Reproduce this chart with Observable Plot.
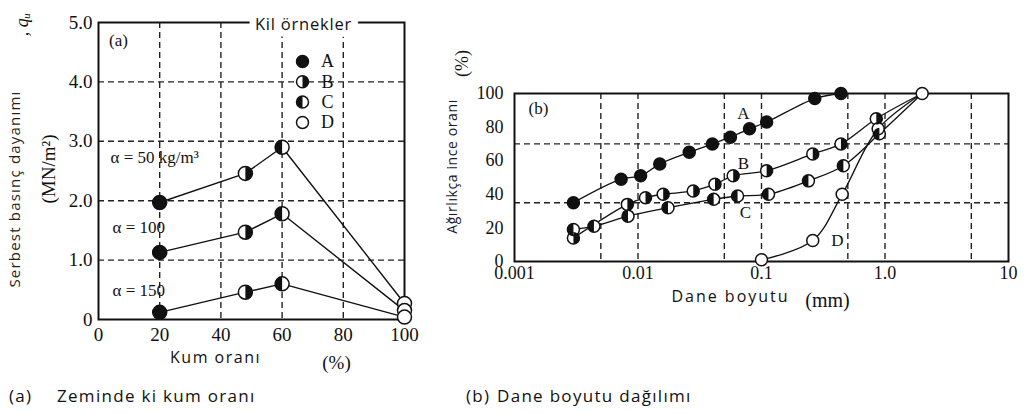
<!DOCTYPE html>
<html><head><meta charset="utf-8">
<script src="https://cdn.jsdelivr.net/npm/d3@7"></script>
<script src="https://cdn.jsdelivr.net/npm/@observablehq/plot@0.6"></script>
<style>
body{margin:0;background:#fff;width:1029px;height:414px;overflow:hidden;position:relative;font-family:"Open Sans",sans-serif;}
#pa{position:absolute;left:0;top:0}
#pb{position:absolute;left:420px;top:0}
.cap{position:absolute;top:384px;font-size:17px;color:#111;letter-spacing:1.3px;white-space:nowrap}
svg{overflow:visible}
</style></head><body>
<div id="pa"></div><div id="pb"></div>
<div class="cap" style="left:9px">(a)</div>
<div class="cap" style="left:57px">Zeminde ki kum oranı</div>
<div class="cap" style="left:466px">(b)</div>
<div class="cap" style="left:497px">Dane boyutu dağılımı</div>
<script>
// ---------- Panel (a) data ----------
const sandPct = [20, 48, 60, 100];
const sampleOfSand = ["A", "B", "C", "D"];
const alphaNames = ["α = 50 kg/m³", "α = 100", "α = 150"];
const qu50 = [1.97, 2.46, 2.90, 0.27];
const qu100 = [1.13, 1.47, 1.78, 0.15];
const qu150 = [0.12, 0.46, 0.60, 0.04];
const xTicksA = [0, 20, 40, 60, 80, 100];
const yTicksA = [0, 1, 2, 3, 4, 5];
const yTickLabelsA = ["0", "1.0", "2.0", "3.0", "4.0", "5.0"];
const gridXA = [20, 40, 60, 80];
const gridYA = [1, 2, 3, 4];
const legendKeys = ["A", "B", "C", "D"];

// ---------- Panel (b) data ----------
const sizeA = [0.003, 0.0073, 0.0105, 0.015, 0.026, 0.04, 0.056, 0.08, 0.11, 0.27, 0.44];
const pctA  = [35, 49, 51, 58, 65, 70, 74, 79, 83, 97, 100];
const sizeB = [0.003, 0.0082, 0.0115, 0.016, 0.028, 0.042, 0.059, 0.11, 0.26, 0.44, 0.85];
const pctB  = [14, 34, 38, 40, 42, 46, 51, 54, 64, 70, 85];
const sizeC = [0.003, 0.0044, 0.0083, 0.0175, 0.041, 0.064, 0.114, 0.24, 0.46, 0.9];
const pctC  = [19, 21, 27, 32, 37, 39, 40, 48, 57, 76];
const sizeD = [0.1, 0.26, 0.45, 0.88];
const pctD  = [1, 12.5, 40, 79];
const endSize = [2.0];
const endPct = [100];
const xTicksB = [0.001, 0.01, 0.1, 1, 10];
const xTickLabelsB = ["0.001", "0.01", "0.1", "1.0", "10"];
const yTicksB = [0, 20, 40, 60, 80, 100];
const gridXB = [0.005, 0.01, 0.05, 0.1, 0.5, 1, 5];
const gridYB = [35, 70];

// ---------- helpers ----------
const halfRight = {draw(ctx, size) { const r = Math.sqrt(size / Math.PI); ctx.moveTo(0, -r); ctx.arc(0, 0, r, -Math.PI / 2, Math.PI / 2); ctx.closePath(); }};
const halfLeft = {draw(ctx, size) { const r = Math.sqrt(size / Math.PI); ctx.moveTo(0, r); ctx.arc(0, 0, r, Math.PI / 2, 3 * Math.PI / 2); ctx.closePath(); }};
function sampleDots(data, r) {
  const base = {x: "x", y: "y", r};
  return [
    Plot.dot(data, {...base, fill: "white", stroke: "#111", strokeWidth: 1.5}),
    Plot.dot(data.filter(d => d.sample === "A"), {...base, fill: "#111"}),
    Plot.dot(data.filter(d => d.sample === "B"), {...base, symbol: halfRight, fill: "#111"}),
    Plot.dot(data.filter(d => d.sample === "C"), {...base, symbol: halfLeft, fill: "#111"})
  ];
}
const serif = "Liberation Serif";
const sans = "Open Sans";
const dash = {stroke: "#222", strokeWidth: 1.4, strokeDasharray: "6,4"};
function label(str, o) {
  return Plot.text([str], {text: d => d, textAnchor: "middle", lineAnchor: "middle", fill: "#111", ...o});
}
function spacing(svg, map) {
  d3.select(svg).selectAll("text").each(function () {
    const t = this.textContent;
    if (map[t] != null) this.style.letterSpacing = map[t] + "px";
  });
}

// ---------- Panel (a) ----------
const rowsA = [qu50, qu100, qu150].flatMap((vals, k) =>
  sandPct.map((x, i) => ({x, y: vals[i], alpha: alphaNames[k], sample: sampleOfSand[i]})));

const legendMarks = legendKeys.flatMap((k, i) => {
  const pos = {frameAnchor: "top-left", dx: 204, dy: 39 + i * 20.3};
  return [
    Plot.dot([k], {...pos, r: 6, fill: "white", stroke: "#111", strokeWidth: 1.5}),
    ...(k === "A" ? [Plot.dot([k], {...pos, r: 6, fill: "#111"})] : []),
    ...(k === "B" ? [Plot.dot([k], {...pos, r: 6, symbol: halfRight, fill: "#111"})] : []),
    ...(k === "C" ? [Plot.dot([k], {...pos, r: 6, symbol: halfLeft, fill: "#111"})] : []),
    label(k, {frameAnchor: "top-left", dx: 229, dy: 39 + i * 20.3, fontFamily: serif, fontSize: 18})
  ];
});

const plotA = Plot.plot({
  width: 420, height: 370,
  marginLeft: 98, marginRight: 16, marginTop: 22, marginBottom: 51,
  style: {fontFamily: serif, fontSize: "19px", color: "#111", background: "transparent", overflow: "visible"},
  x: {domain: [0, 100]},
  y: {domain: [0, 5]},
  marks: [
    Plot.ruleX(gridXA, dash),
    Plot.ruleY(gridYA, dash),
    Plot.frame({stroke: "#111", strokeWidth: 2}),
    Plot.axisX(xTicksA, {tickSize: 0, tickPadding: 8, fontSize: 19, label: null}),
    Plot.axisY(yTicksA, {tickSize: 0, tickPadding: 6, fontSize: 19, label: null, tickFormat: d => yTickLabelsA[yTicksA.indexOf(d)]}),
    Plot.line(rowsA, {x: "x", y: "y", z: "alpha", stroke: "#111", strokeWidth: 1.4}),
    ...sampleDots(rowsA, 7),
    label("Kil örnekler", {frameAnchor: "top", dx: 52, dy: 2, fontFamily: sans, fontSize: 16.5, stroke: "white", strokeWidth: 14, paintOrder: "stroke", strokeLinejoin: "round"}),
    ...legendMarks,
    label("(a)", {frameAnchor: "top-left", dx: 20, dy: 18, fontFamily: serif, fontSize: 17}),
    label(alphaNames[0], {frameAnchor: "top-left", dx: 12, dy: 135, textAnchor: "start", fontFamily: serif, fontSize: 17}),
    label(alphaNames[1], {frameAnchor: "top-left", dx: 14, dy: 205, textAnchor: "start", fontFamily: serif, fontSize: 17}),
    label(alphaNames[2], {frameAnchor: "top-left", dx: 14, dy: 268, textAnchor: "start", fontFamily: serif, fontSize: 17}),
    label("Kum oranı", {frameAnchor: "bottom", dx: -36, dy: 38, fontFamily: sans, fontSize: 16}),
    label("(%)", {frameAnchor: "bottom", dx: 85, dy: 43, fontFamily: serif, fontSize: 19}),
    label("Serbest basınç dayanımı", {frameAnchor: "left", dx: -83, dy: 18, rotate: -90, fontFamily: sans, fontSize: 15, fill: "#2a1e10"}),
    label("(MN/m²)", {frameAnchor: "left", dx: -50, dy: -2, rotate: -90, fontFamily: serif, fontSize: 19}),
    label(", qᵤ", {frameAnchor: "top-left", dx: -76, dy: 2, rotate: -90, fontFamily: serif, fontSize: 18, fontStyle: "italic"})
  ]
});
spacing(plotA, {"Kil örnekler": 0.8, "Kum oranı": 1.5, "Serbest basınç dayanımı": 1.2});
document.getElementById("pa").append(plotA);

// ---------- Panel (b) ----------
const mk = (sizes, pcts, sample) => sizes.map((x, i) => ({x, y: pcts[i], sample}));
const ptsA = mk(sizeA, pctA, "A");
const ptsB = mk(sizeB, pctB, "B");
const ptsC = mk(sizeC, pctC, "C");
const ptsD = mk(sizeD, pctD, "D");
const endPt = mk(endSize, endPct, "D");
const curve = "catmull-rom";

const plotB = Plot.plot({
  width: 609, height: 300,
  marginLeft: 94, marginRight: 21, marginTop: 93, marginBottom: 39,
  style: {fontFamily: serif, fontSize: "18px", color: "#111", background: "transparent", overflow: "visible"},
  x: {type: "log", domain: [0.001, 10]},
  y: {domain: [0, 100]},
  marks: [
    Plot.ruleX(gridXB, dash),
    Plot.ruleY(gridYB, dash),
    Plot.frame({stroke: "#111", strokeWidth: 2}),
    Plot.axisX(xTicksB, {tickSize: 0, tickPadding: 5, fontSize: 18, label: null, tickFormat: d => xTickLabelsB[xTicksB.indexOf(d)]}),
    Plot.axisY(yTicksB, {tickSize: 0, tickPadding: 11, fontSize: 18, label: null}),
    Plot.line(ptsA, {x: "x", y: "y", curve, stroke: "#111", strokeWidth: 1.3}),
    Plot.line([...ptsB, ...endPt], {x: "x", y: "y", curve, stroke: "#111", strokeWidth: 1.3}),
    Plot.line([...ptsC, ...endPt], {x: "x", y: "y", curve, stroke: "#111", strokeWidth: 1.3}),
    Plot.line([...ptsD, ...endPt], {x: "x", y: "y", curve, stroke: "#111", strokeWidth: 1.3}),
    ...sampleDots([...ptsA, ...ptsB, ...ptsC, ...ptsD, ...endPt], 6),
    label("(b)", {frameAnchor: "top-left", dx: 24, dy: 15, fontFamily: serif, fontSize: 17}),
    label("A", {frameAnchor: "top-left", dx: 229, dy: 20, fontFamily: serif, fontSize: 17}),
    label("B", {frameAnchor: "top-left", dx: 229, dy: 70, fontFamily: serif, fontSize: 17}),
    label("C", {frameAnchor: "top-left", dx: 231, dy: 119, fontFamily: serif, fontSize: 17}),
    label("D", {frameAnchor: "top-left", dx: 323, dy: 147, fontFamily: serif, fontSize: 17}),
    label("Dane boyutu", {frameAnchor: "bottom", dx: -31, dy: 35, fontFamily: sans, fontSize: 16}),
    label("(mm)", {frameAnchor: "bottom", dx: 66, dy: 39, fontFamily: serif, fontSize: 20}),
    label("Ağırlıkça ince oranı", {frameAnchor: "left", dx: -62, dy: -11, rotate: -90, fontFamily: sans, fontSize: 14, fill: "#1a1a30"}),
    label("(%)", {frameAnchor: "top-left", dx: -52, dy: -30, rotate: -90, fontFamily: serif, fontSize: 18})
  ]
});
spacing(plotB, {"Dane boyutu": 2, "Ağırlıkça ince oranı": 0.6});
document.getElementById("pb").append(plotB);
</script>
</body></html>
